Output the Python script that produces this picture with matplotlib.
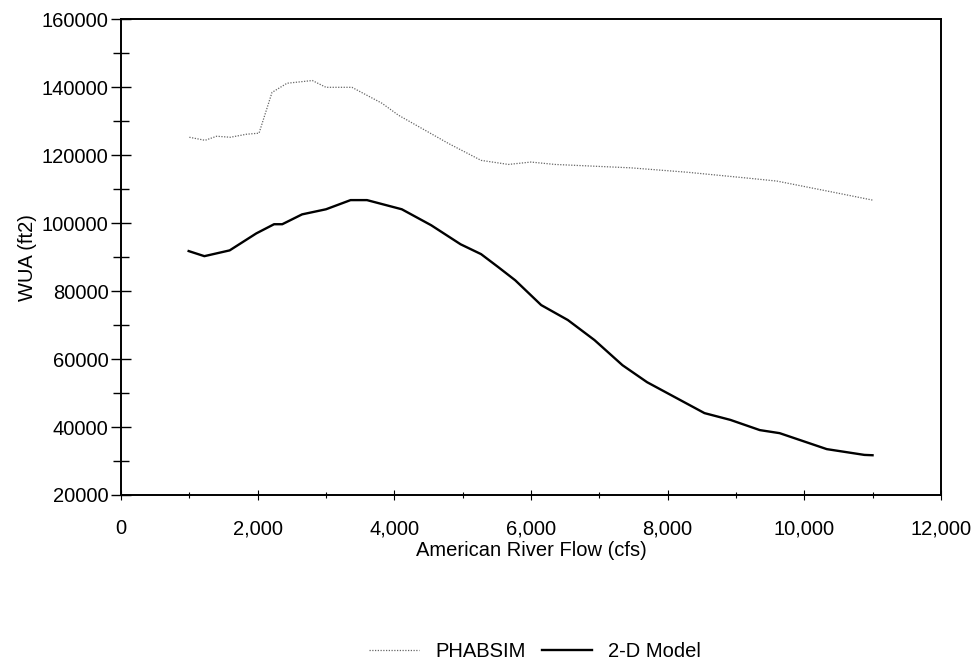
import matplotlib.pyplot as plt
from matplotlib.ticker import MultipleLocator, FuncFormatter

plt.rcParams['font.family'] = ['Liberation Sans', 'DejaVu Sans']

# PHABSIM curve
phab_flow = [1000, 1230, 1400, 1600, 1840, 2020, 2210, 2430, 2800, 3000, 3380,
             3820, 4060, 4790, 5270, 5670, 6000, 6350, 7460, 8290, 9210, 9600,
             10580, 11000]
phab_wua = [125300, 124400, 125600, 125300, 126200, 126500, 138500, 141200,
            142000, 140000, 140000, 135300, 131800, 123500, 118500, 117300,
            118000, 117300, 116300, 115000, 113200, 112400, 108500, 106800]

# 2-D model curve
model_flow = [990, 1220, 1590, 1980, 2240, 2360, 2650, 3000, 3360, 3600, 4110,
              4540, 4970, 5270, 5520, 5770, 6150, 6540, 6930, 7340, 7700, 8540,
              8920, 9350, 9640, 10330, 10880, 11000]
model_wua = [91800, 90300, 92000, 97000, 99700, 99700, 102600, 104100, 106800,
             106800, 104100, 99400, 93800, 90900, 87100, 83200, 75900, 71500,
             65600, 58200, 53200, 44100, 42100, 39100, 38200, 33500, 31800, 31700]

fs = 14.5
fig = plt.figure(figsize=(9.76, 6.68), dpi=100)
ax = fig.add_axes([0.124, 0.259, 0.840, 0.712])

ax.plot(phab_flow, phab_wua, color='#666666', lw=0.9, ls=(0, (1, 1.2)),
        label='PHABSIM')
ax.plot(model_flow, model_wua, color='black', lw=1.7, label='2-D Model')

ax.set_xlim(0, 12000)
ax.set_ylim(20000, 160000)
ax.xaxis.set_major_locator(MultipleLocator(2000))
ax.xaxis.set_minor_locator(MultipleLocator(1000))
ax.yaxis.set_major_locator(MultipleLocator(20000))
ax.yaxis.set_minor_locator(MultipleLocator(10000))
ax.xaxis.set_major_formatter(FuncFormatter(lambda v, p: f'{int(v):,}'))
ax.tick_params(axis='y', which='major', direction='inout', length=14,
               width=1, labelsize=fs, pad=2)
ax.tick_params(axis='y', which='minor', direction='inout', length=12, width=1)
ax.tick_params(axis='x', which='major', direction='inout', length=7,
               width=0.8, labelsize=fs, pad=14)
ax.tick_params(axis='x', which='minor', direction='inout', length=4, width=0.8)
for s in ax.spines.values():
    s.set_linewidth(1.4)

ax.set_xlabel('American River Flow (cfs)', fontsize=fs, labelpad=2)
ax.set_ylabel('WUA (ft2)', fontsize=fs, labelpad=3)

fig.legend(loc='center', bbox_to_anchor=(0.548, 0.025), ncol=2, frameon=False,
           fontsize=fs, handlelength=2.5, columnspacing=0.8, handletextpad=0.8)

fig.savefig('out.png', dpi=100)
